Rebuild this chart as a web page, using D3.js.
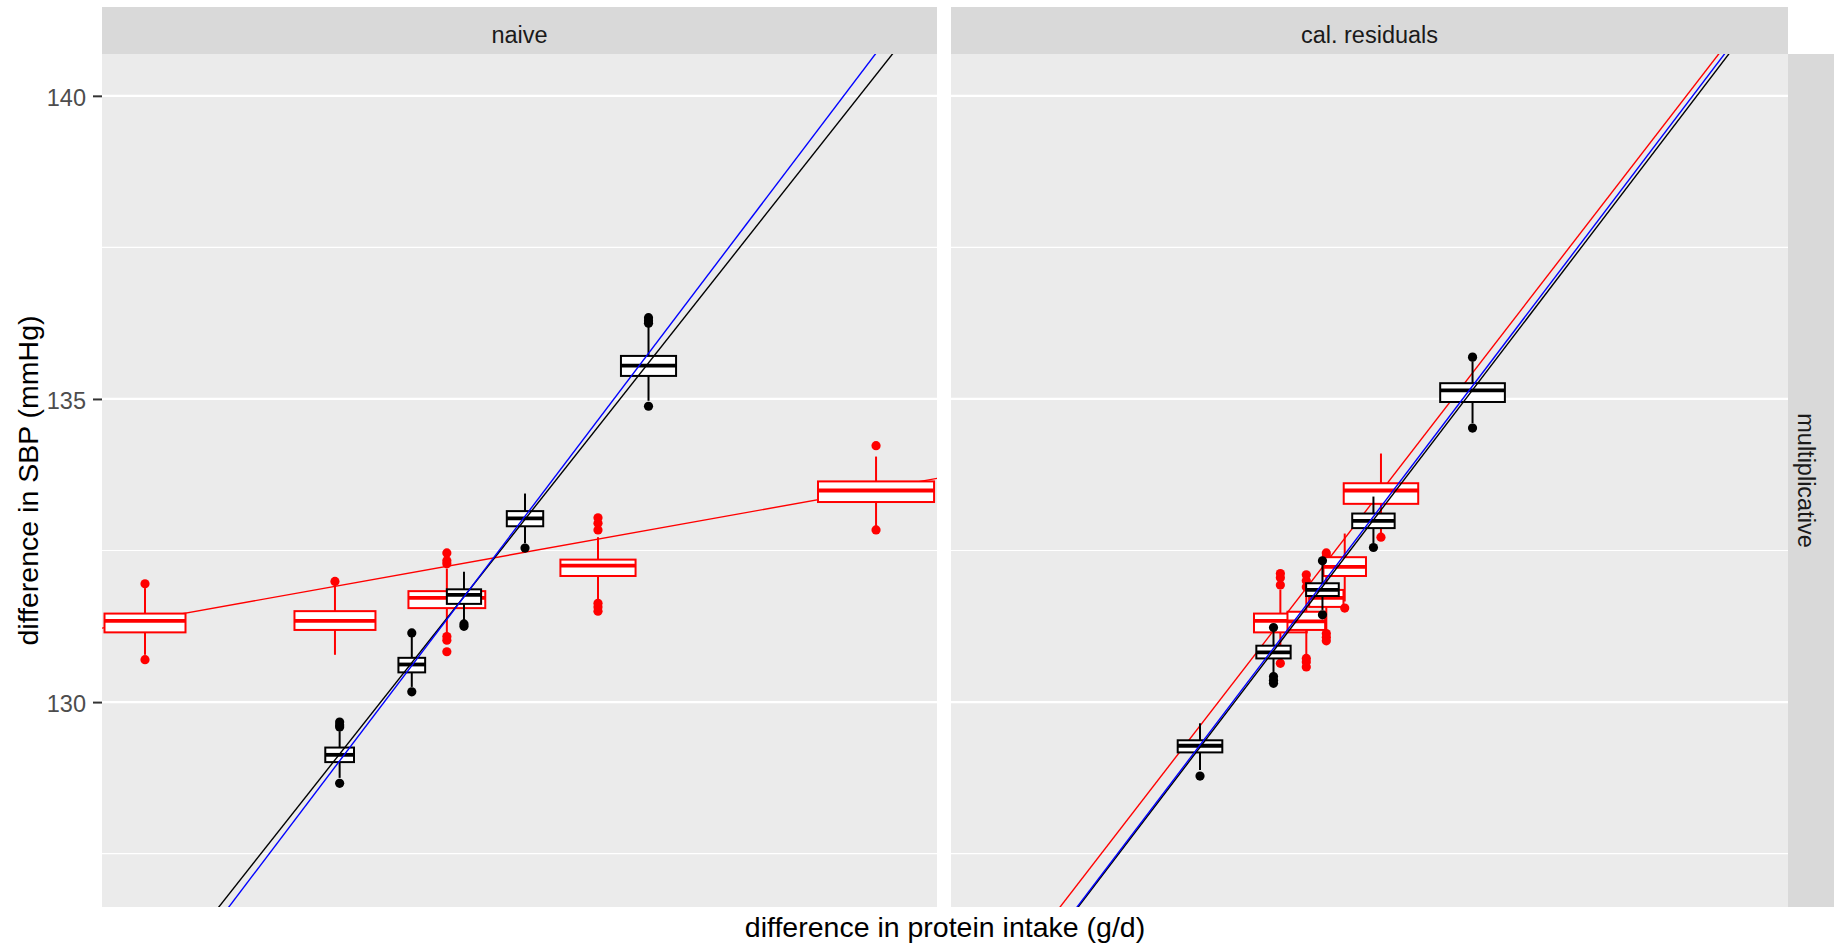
<!DOCTYPE html>
<html>
<head>
<meta charset="utf-8">
<script src="https://cdn.jsdelivr.net/npm/d3@7"></script>
<style>
	html, body { margin: 0; padding: 0; background: #fff; }
	svg { display: block; font-family: "Liberation Sans", Arial, sans-serif; }
</style>
</head>
<body>
<div id="chart"></div>
<script>
// facets and labels
const panels = ["naive", "cal. residuals"];
const rowLabel = "multiplicative";
const xTitle = "difference in protein intake (g/d)";
const yTitle = "difference in SBP (mmHg)";
const yTicks = [130, 135, 140];
const yMinor = [127.5, 132.5, 137.5];
const series = ["observed", "true", "fitted"];

// box stats per group: [lower whisker, q1, median, q3, upper whisker]
const naiveObsX = [5.15, 27.9, 41.3, 59.4, 92.7];
const naiveObsWidth = [9.7, 9.7, 9.2, 9.0, 13.9];
const naiveObsStats = [
	[130.78, 131.15, 131.34, 131.46, 131.88],
	[130.78, 131.19, 131.34, 131.50, 131.93],
	[131.14, 131.55, 131.72, 131.83, 132.20],
	[131.68, 132.08, 132.25, 132.35, 132.72],
	[132.89, 133.30, 133.49, 133.64, 134.05]
];
const naiveObsOutliers = [
	[131.95, 130.70],
	[131.99],
	[132.28, 132.33, 132.46, 131.08, 131.02, 130.83],
	[133.04, 132.95, 132.84, 131.63, 131.57, 131.50],
	[134.23, 132.84]
];

const naiveTrueX = [28.46, 37.1, 43.35, 50.66, 65.45];
const naiveTrueWidth = [3.44, 3.2, 4.1, 4.36, 6.6];
const naiveTrueStats = [
	[128.75, 129.01, 129.13, 129.25, 129.52],
	[130.25, 130.49, 130.62, 130.73, 131.08],
	[131.35, 131.62, 131.77, 131.86, 132.15],
	[132.62, 132.90, 133.03, 133.15, 133.44],
	[134.97, 135.38, 135.55, 135.71, 136.20]
];
const naiveTrueOutliers = [
	[129.59, 129.62, 129.67, 128.66],
	[131.14, 130.17],
	[131.29, 131.25],
	[132.54],
	[136.25, 136.29, 136.34, 134.88]
];

const calObsX = [39.35, 42.45, 44.84, 47.04, 51.37];
const calObsWidth = [6.3, 4.5, 4.1, 5.08, 8.9];
const calObsStats = [
	[130.73, 131.15, 131.34, 131.46, 131.85],
	[130.78, 131.19, 131.33, 131.49, 131.82],
	[131.19, 131.57, 131.72, 131.85, 132.34],
	[131.66, 132.08, 132.23, 132.39, 132.78],
	[132.78, 133.27, 133.49, 133.61, 134.10]
];
const calObsOutliers = [
	[131.93, 132.05, 132.12, 130.64],
	[131.90, 132.00, 132.10, 130.72, 130.66, 130.58],
	[132.40, 132.46, 131.13, 131.07, 131.01],
	[131.55],
	[132.72]
];

const calTrueX = [29.75, 38.53, 44.38, 50.47, 62.31];
const calTrueWidth = [5.33, 4.1, 3.9, 5.07, 7.73];
const calTrueStats = [
	[128.88, 129.17, 129.28, 129.37, 129.65],
	[130.47, 130.72, 130.82, 130.93, 131.19],
	[131.52, 131.75, 131.85, 131.96, 132.26],
	[132.62, 132.87, 132.99, 133.11, 133.39],
	[134.60, 134.95, 135.14, 135.26, 135.62]
];
const calTrueOutliers = [
	[128.78],
	[131.23, 130.42, 130.36, 130.31],
	[132.33, 131.44],
	[132.55],
	[135.69, 134.52]
];

// regression lines, same order as series
const naiveIntercept = [131.22, 124.18, 123.86];
const naiveSlope = [0.0247, 0.1744, 0.1817];
const calIntercept = [124.29, 123.87, 123.88];
const calSlope = [0.1788, 0.1810, 0.1819];

const W = 1839, H = 946;
const panelTop = 54, panelBottom = 907, stripTop = 7;
const panelRanges = [[102, 937], [951, 1788]];
const rightStrip = [1788, 1834];

const colour = d3.scaleOrdinal().domain(series).range(["#ff0000", "#000000", "#0000ff"]);

const svg = d3.select('#chart').append('svg')
	.attr('width', W)
	.attr('height', H)
	.attr('viewBox', `0 0 ${W} ${H}`);

const y = d3.scaleLinear().domain([126.62, 140.69]).range([panelBottom, panelTop]);

const drawBoxes = (g, x, xs, widths, stats, outliers, col) => {
	xs.forEach((cx, i) => {
		const [lo, q1, med, q3, hi] = stats[i];
		const x0 = x(cx - widths[i] / 2), x1 = x(cx + widths[i] / 2);
		const b = g.append('g');
		b.selectAll('circle')
			.data(outliers[i])
			.join('circle')
			.attr('cx', x(cx))
			.attr('cy', d => y(d))
			.attr('r', 4.6)
			.attr('fill', col);
		b.append('line')
			.attr('x1', x(cx)).attr('x2', x(cx))
			.attr('y1', y(hi)).attr('y2', y(q3))
			.attr('stroke', col).attr('stroke-width', 2);
		b.append('line')
			.attr('x1', x(cx)).attr('x2', x(cx))
			.attr('y1', y(q1)).attr('y2', y(lo))
			.attr('stroke', col).attr('stroke-width', 2);
		b.append('rect')
			.attr('x', x0).attr('y', y(q3))
			.attr('width', x1 - x0).attr('height', y(q1) - y(q3))
			.attr('fill', '#fff').attr('stroke', col).attr('stroke-width', 2);
		b.append('line')
			.attr('x1', x0).attr('x2', x1)
			.attr('y1', y(med)).attr('y2', y(med))
			.attr('stroke', col).attr('stroke-width', 3.8);
	});
};

const drawFit = (g, x, a, b, col) => {
	const [d0, d1] = x.domain();
	g.append('line')
		.attr('x1', x(d0 - 20)).attr('y1', y(a + b * (d0 - 20)))
		.attr('x2', x(d1 + 20)).attr('y2', y(a + b * (d1 + 20)))
		.attr('stroke', col)
		.attr('stroke-width', 1.4);
};

const panelData = [
	{ intercept: naiveIntercept, slope: naiveSlope,
		obs: [naiveObsX, naiveObsWidth, naiveObsStats, naiveObsOutliers],
		tru: [naiveTrueX, naiveTrueWidth, naiveTrueStats, naiveTrueOutliers] },
	{ intercept: calIntercept, slope: calSlope,
		obs: [calObsX, calObsWidth, calObsStats, calObsOutliers],
		tru: [calTrueX, calTrueWidth, calTrueStats, calTrueOutliers] }
];

panels.forEach((name, p) => {
	const [left, right] = panelRanges[p];
	const x = d3.scaleLinear().domain([0, 100]).range([left, right]);
	const d = panelData[p];

	// strip
	svg.append('rect')
		.attr('x', left).attr('y', stripTop)
		.attr('width', right - left).attr('height', panelTop - stripTop)
		.attr('fill', '#d9d9d9');
	svg.append('text')
		.attr('x', (left + right) / 2).attr('y', 43)
		.attr('text-anchor', 'middle')
		.attr('font-size', '23.5px')
		.attr('fill', '#1a1a1a')
		.text(name);

	// panel background + grid
	svg.append('rect')
		.attr('x', left).attr('y', panelTop)
		.attr('width', right - left).attr('height', panelBottom - panelTop)
		.attr('fill', '#ebebeb');
	svg.append('g').selectAll('line')
		.data(yMinor)
		.join('line')
		.attr('x1', left).attr('x2', right)
		.attr('y1', v => y(v)).attr('y2', v => y(v))
		.attr('stroke', '#fff').attr('stroke-width', 1.2);
	svg.append('g').selectAll('line')
		.data(yTicks)
		.join('line')
		.attr('x1', left).attr('x2', right)
		.attr('y1', v => y(v)).attr('y2', v => y(v))
		.attr('stroke', '#fff').attr('stroke-width', 2.3);

	const clipId = 'clip' + p;
	svg.append('clipPath').attr('id', clipId)
		.append('rect')
		.attr('x', left).attr('y', panelTop)
		.attr('width', right - left).attr('height', panelBottom - panelTop);
	const g = svg.append('g').attr('clip-path', `url(#${clipId})`);

	drawFit(g, x, d.intercept[0], d.slope[0], colour(series[0]));
	drawBoxes(g, x, ...d.obs, colour(series[0]));
	drawBoxes(g, x, ...d.tru, colour(series[1]));
	drawFit(g, x, d.intercept[1], d.slope[1], colour(series[1]));
	drawFit(g, x, d.intercept[2], d.slope[2], colour(series[2]));
});

// right strip
svg.append('rect')
	.attr('x', rightStrip[0]).attr('y', panelTop)
	.attr('width', rightStrip[1] - rightStrip[0]).attr('height', panelBottom - panelTop)
	.attr('fill', '#d9d9d9');
svg.append('text')
	.attr('transform', `translate(${(rightStrip[0] + rightStrip[1]) / 2}, ${(panelTop + panelBottom) / 2}) rotate(90)`)
	.attr('text-anchor', 'middle')
	.attr('dy', 13)
	.attr('font-size', '23.5px')
	.attr('fill', '#1a1a1a')
	.text(rowLabel);

// y axis
const yAxis = svg.append('g')
	.attr('transform', `translate(${panelRanges[0][0]},0)`)
	.call(d3.axisLeft(y).tickValues(yTicks).tickSize(9).tickPadding(7));
yAxis.select('.domain').remove();
yAxis.selectAll('.tick line').attr('stroke', '#333').attr('stroke-width', 2);
yAxis.selectAll('.tick text')
	.attr('font-size', '23.5px')
	.attr('font-family', '"Liberation Sans", Arial, sans-serif')
	.attr('fill', '#4d4d4d')
	.attr('dy', '0.42em');

// axis titles
svg.append('text')
	.attr('x', (panelRanges[0][0] + panelRanges[1][1]) / 2)
	.attr('y', 937)
	.attr('text-anchor', 'middle')
	.attr('font-size', '28.5px')
	.attr('fill', '#000')
	.text(xTitle);
svg.append('text')
	.attr('transform', `translate(28.5, ${(panelTop + panelBottom) / 2}) rotate(-90)`)
	.attr('text-anchor', 'middle')
	.attr('dy', '0.35em')
	.attr('font-size', '28.5px')
	.attr('fill', '#000')
	.text(yTitle);
</script>
</body>
</html>
